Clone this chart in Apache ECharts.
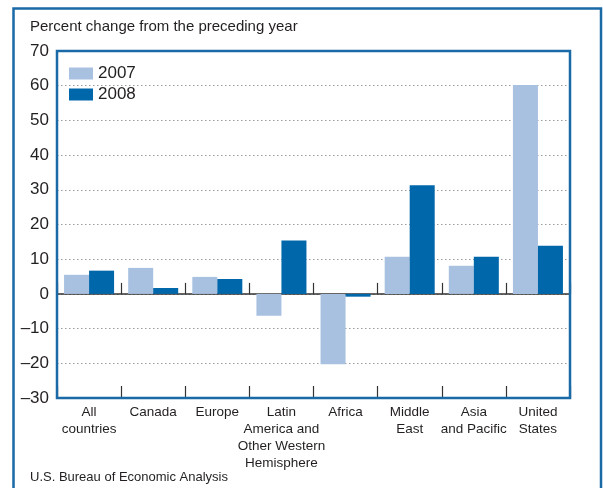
<!DOCTYPE html>
<html>
<head>
<meta charset="utf-8">
<script src="https://cdn.jsdelivr.net/npm/echarts@6/dist/echarts.min.js"></script>
<style>
html,body{margin:0;padding:0;background:#fff;}
#chart{width:603px;height:488px;}
</style>
</head>
<body>
<div id="chart"></div>
<script>
const categories = ['All\ncountries', 'Canada', 'Europe', 'Latin\nAmerica and\nOther Western\nHemisphere', 'Africa', 'Middle\nEast', 'Asia\nand Pacific', 'United\nStates'];
const values2007 = [5.5, 7.5, 4.9, -6.3, -20.3, 10.7, 8.1, 60.2];
const values2008 = [6.7, 1.7, 4.3, 15.4, -0.8, 31.3, 10.7, 13.9];
const seriesNames = ['2007', '2008'];
const yTicks = { min: -30, max: 70, interval: 10 };

const FONT = '"Liberation Sans", Arial, Helvetica, sans-serif';
const TEXT = '#231f20';
const BLUE_FRAME = '#1a6aa8';
const LIGHT = '#a8c1e0';
const DARK = '#0067ab';

const chart = echarts.init(document.getElementById('chart'), null, { renderer: 'canvas' });
chart.setOption({
  animation: false,
  backgroundColor: '#fff',
  textStyle: { fontFamily: FONT, color: TEXT },
  graphic: [
    { type: 'rect', shape: { x: 13.5, y: 8.5, width: 587.5, height: 500 }, style: { fill: 'none', stroke: BLUE_FRAME, lineWidth: 2.5 }, silent: true },
    { type: 'text', left: 30, top: 19, style: { text: 'Percent change from the preceding year', font: '15px ' + FONT, fill: TEXT } },
    { type: 'text', left: 30, top: 471, style: { text: 'U.S. Bureau of Economic Analysis', font: '13px ' + FONT, fill: TEXT } }
  ],
  legend: {
    orient: 'vertical', left: 64, top: 60, itemWidth: 24, itemHeight: 12, itemGap: 4,
    icon: 'rect',
    textStyle: { fontSize: 17, color: TEXT, fontFamily: FONT },
    data: seriesNames
  },
  grid: { left: 57, right: 33, top: 51, bottom: 90, show: true, borderColor: BLUE_FRAME, borderWidth: 2.5, backgroundColor: 'transparent', z: 10 },
  xAxis: [
    {
      type: 'category', data: categories, position: 'bottom',
      axisLine: { show: false, onZero: false },
      axisTick: { show: true, inside: true, length: 12, interval: 0, lineStyle: { color: '#333', width: 1.2 } },
      axisLabel: { fontSize: 13.5, lineHeight: 17, color: TEXT, margin: 6, interval: 0, fontFamily: FONT }
    },
    {
      type: 'category', data: categories, position: 'bottom',
      axisLine: { show: true, onZero: true, lineStyle: { color: '#333', width: 1.5 } },
      axisTick: { show: true, inside: true, length: 11, interval: 0, lineStyle: { color: '#333', width: 1.2 } },
      axisLabel: { show: false, interval: 0 }
    }
  ],
  yAxis: {
    type: 'value', min: yTicks.min, max: yTicks.max, interval: yTicks.interval,
    axisLine: { show: false }, axisTick: { show: false },
    axisLabel: { fontSize: 17, color: TEXT, margin: 8, fontFamily: FONT, formatter: v => String(v).replace('-', '–') },
    splitLine: { show: true, lineStyle: { color: '#9a9a9a', type: [1.5, 2.5], width: 1 } }
  },
  series: [
    { name: seriesNames[0], type: 'bar', xAxisIndex: 0, data: values2007, itemStyle: { color: LIGHT }, barGap: '0%', barCategoryGap: '22%' },
    { name: seriesNames[1], type: 'bar', xAxisIndex: 0, data: values2008, itemStyle: { color: DARK }, barGap: '0%', barCategoryGap: '22%' }
  ]
});
</script>
</body>
</html>
